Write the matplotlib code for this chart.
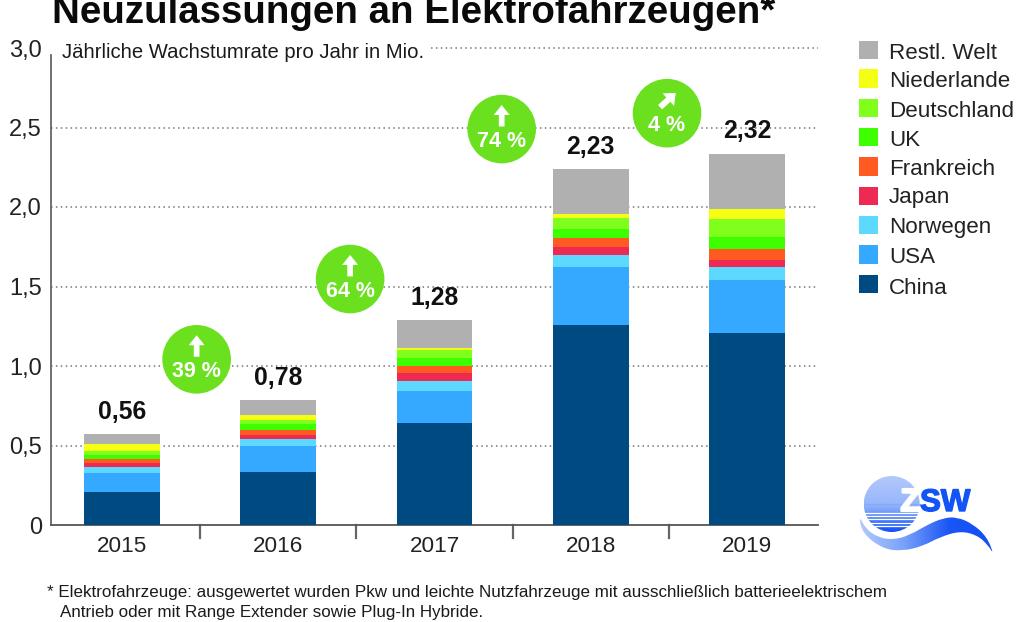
import numpy as np
import matplotlib
matplotlib.use('Agg')
import matplotlib.pyplot as plt
import matplotlib.patheffects as pe
from matplotlib.colors import LinearSegmentedColormap
from matplotlib.patches import Circle, Rectangle, PathPatch, FancyArrow
from matplotlib.path import Path

plt.rcParams['font.family'] = ['Liberation Sans', 'DejaVu Sans']

# Werte in Mio., von unten nach oben gestapelt
years = ['2015', '2016', '2017', '2018', '2019']
totals = ['0,56', '0,78', '1,28', '2,23', '2,32']
china = [0.21, 0.335, 0.64, 1.26, 1.21]
usa = [0.12, 0.16, 0.20, 0.363, 0.331]
norwegen = [0.033, 0.046, 0.063, 0.075, 0.084]
japan = [0.028, 0.025, 0.055, 0.052, 0.044]
frankreich = [0.027, 0.034, 0.042, 0.053, 0.069]
uk = [0.025, 0.038, 0.048, 0.058, 0.075]
deutschland = [0.025, 0.025, 0.055, 0.067, 0.109]
niederlande = [0.04, 0.03, 0.011, 0.031, 0.067]
rest = [0.065, 0.092, 0.174, 0.28, 0.346]

series = [china, usa, norwegen, japan, frankreich, uk, deutschland, niederlande, rest]
names = ['China', 'USA', 'Norwegen', 'Japan', 'Frankreich', 'UK', 'Deutschland', 'Niederlande', 'Restl. Welt']
colors = ['#004a82', '#35a9ff', '#5bd9ff', '#ef2a52', '#ff5a22', '#3dff00', '#80ff1c', '#f4ff14', '#b0b0b0']

y_ticks = [0, 0.5, 1.0, 1.5, 2.0, 2.5, 3.0]
y_labels = ['0', '0,5', '1,0', '1,5', '2,0', '2,5', '3,0']

growth = ['39 %', '64 %', '74 %', '4 %']
growth_x = [0.478, 1.46, 2.43, 3.488]
growth_y = [1.042, 1.547, 2.49, 2.59]

W, H = 1024, 622
fig = plt.figure(figsize=(W / 100, H / 100), dpi=100)

# Achse in Pixeln des Bildes platziert
ax = fig.add_axes([51 / W, 1 - 525 / H, (818 - 51) / W, (525 - 48) / H])
ax.set_xlim(-0.454, 4.454)
ax.set_ylim(0, 3)

x = np.arange(len(years))
bottom = np.zeros(len(years))
for vals, c in zip(series, colors):
    ax.bar(x, vals, 0.483, bottom=bottom, color=c, zorder=3)
    bottom += np.array(vals)

for xi, top, t in zip(x, bottom, totals):
    ax.text(xi, top + 0.065, t, ha='center', va='bottom', fontsize=17.8, fontweight='bold', color='#111111', zorder=4)

ax.set_yticks(y_ticks)
ax.set_yticklabels(y_labels, fontsize=17, color='#222222')
ax.tick_params(axis='y', length=0, pad=6.5)
ax.set_xticks(x)
ax.set_xticklabels(years, fontsize=16.2, color='#222222')
ax.tick_params(axis='x', length=0, pad=8)

# Trennstriche zwischen den Jahren
for xi in x[:-1] + 0.5:
    ax.plot([xi, xi], [0, -0.08], color='#666666', lw=1.6, clip_on=False, zorder=2)

for yv in y_ticks[1:]:
    x0 = 0.495 if yv == 3.0 else 0
    ax.plot([x0, 1], [yv, yv], transform=ax.get_yaxis_transform(), color='#777777', lw=1.1,
            ls=(0, (1, 2.2)), zorder=1, clip_on=False)

for s in ['top', 'right']:
    ax.spines[s].set_visible(False)
ax.spines['left'].set_color('#666666')
ax.spines['bottom'].set_color('#555555')
ax.spines['left'].set_linewidth(1.3)
ax.spines['bottom'].set_linewidth(1.3)
ax.spines['left'].set_bounds(0, 2.955)

# Overlay in Pixelkoordinaten fuer Legende, Titel, Logo
ov = fig.add_axes([0, 0, 1, 1])
ov.set_xlim(0, W)
ov.set_ylim(H, 0)
ov.axis('off')
ov.patch.set_alpha(0)

ov.text(52, 23, 'Neuzulassungen an Elektrofahrzeugen*', fontsize=27.7, fontweight='bold', color='#0a0a0a',
        ha='left', va='baseline')
ov.text(62, 58, 'Jährliche Wachstumrate pro Jahr in Mio.', fontsize=14.6, color='#1a1a1a', ha='left', va='baseline')

box_y = [50, 78.5, 108, 137, 166.5, 196, 225, 254.5, 284]
label_y = [59.3, 86.7, 116.7, 145.7, 174.7, 203.3, 233.3, 263.3, 294.3]
for by, ly, name, c in zip(box_y, label_y, names[::-1], colors[::-1]):
    ov.add_patch(Rectangle((858.5, by - 9.2), 19.3, 18.4, color=c, lw=0))
    ov.text(889, ly, name, fontsize=16.1, color='#222222', ha='left', va='baseline')

# gruene Kreise mit Wachstumsrate
inv = ov.transData.inverted()
for i, (gx, gy, g) in enumerate(zip(growth_x, growth_y, growth)):
    px, py = inv.transform(ax.transData.transform((gx, gy)))
    ov.add_patch(Circle((px, py), 34.3, color='#6be01f', lw=0))
    ov.text(px, py + 18, g, fontsize=15.5, fontweight='bold', color='white', ha='center', va='baseline')
    if i < 3:
        ov.add_patch(FancyArrow(px, py - 2.6, 0, -21.5, width=5.7, head_width=16, head_length=10,
                                length_includes_head=True, color='white', lw=0))
    else:
        ov.add_patch(FancyArrow(px - 7, py - 6, 15.7, -14.3, width=6, head_width=17, head_length=10,
                                length_includes_head=True, color='white', lw=0))

ov.text(47, 597, '* Elektrofahrzeuge: ausgewertet wurden Pkw und leichte Nutzfahrzeuge mit ausschließlich batterieelektrischem',
        fontsize=12.25, color='#1a1a1a', ha='left', va='baseline')
ov.text(60.5, 617, 'Antrieb oder mit Range Extender sowie Plug-In Hybride.', fontsize=12.25, color='#1a1a1a',
        ha='left', va='baseline')


def smooth_path(pts):
    # geschlossene Kurve, Punkte dienen als Kontrollpunkte
    verts, codes = [], []
    pts = pts + [pts[0]]
    start = ((pts[0][0] + pts[1][0]) / 2, (pts[0][1] + pts[1][1]) / 2)
    verts.append(start)
    codes.append(Path.MOVETO)
    for a, b in zip(pts[1:], pts[2:] + [pts[1]]):
        verts += [a, ((a[0] + b[0]) / 2, (a[1] + b[1]) / 2)]
        codes += [Path.CURVE3, Path.CURVE3]
    return Path(verts, codes)


# ZSW Logo
cx, cy, r = 891.7, 504, 28
grad = np.linspace(0, 1, 200).reshape(-1, 1)
cmap = LinearSegmentedColormap.from_list('z', [(0, '#b4c9fb'), (0.5, '#97b6fb'), (0.62, '#7ba2fa'), (0.85, '#3a6ef7'), (1, '#1250f5')])
im = ov.imshow(grad, extent=(cx - r, cx + r, cy + r, cy - r), cmap=cmap, aspect='auto', zorder=2)
im.set_clip_path(Circle((cx, cy), r, transform=ov.transData))
for yy in [513, 516, 519, 522.7, 525.7]:
    half = np.sqrt(r ** 2 - (yy - cy) ** 2)
    ov.plot([cx - half, cx + half], [yy, yy], color='white', lw=0.9, zorder=3)
ov.plot([cx - r, cx + r], [cy, cy], color='#86a9fa', lw=0.9, zorder=3)

ov.text(920, 511, 'Z', fontsize=23, fontweight='bold', color='white', ha='right', va='baseline', zorder=5,
        path_effects=[pe.withStroke(linewidth=1.6, foreground='white')])
ov.text(920, 511, 'SW', fontsize=22.5, fontweight='bold', color='#1255f5', ha='left', va='baseline', zorder=4,
        path_effects=[pe.withStroke(linewidth=1.0, foreground='#1255f5')])

wave_pts = [(859, 515), (862, 533), (883, 549), (903, 551), (923, 546), (940, 537), (960, 531), (977, 535), (988, 545),
            (994, 555), (987, 537), (973, 524), (957, 517), (943, 518), (927, 525), (910, 535), (893, 540), (877, 537), (865, 528)]
wave = PathPatch(smooth_path(wave_pts), transform=ov.transData, lw=0, facecolor='none')
ov.add_patch(wave)
cmap2 = LinearSegmentedColormap.from_list('w', ['#b5cbfb', '#7aa2fa', '#1a55f5', '#1250f5'])
im2 = ov.imshow(np.linspace(0, 1, 200).reshape(1, -1), extent=(857, 996, 556, 512), cmap=cmap2, aspect='auto', zorder=3)
im2.set_clip_path(wave)

ov.set_xlim(0, W)
ov.set_ylim(H, 0)

fig.savefig('out.png', dpi=100)
